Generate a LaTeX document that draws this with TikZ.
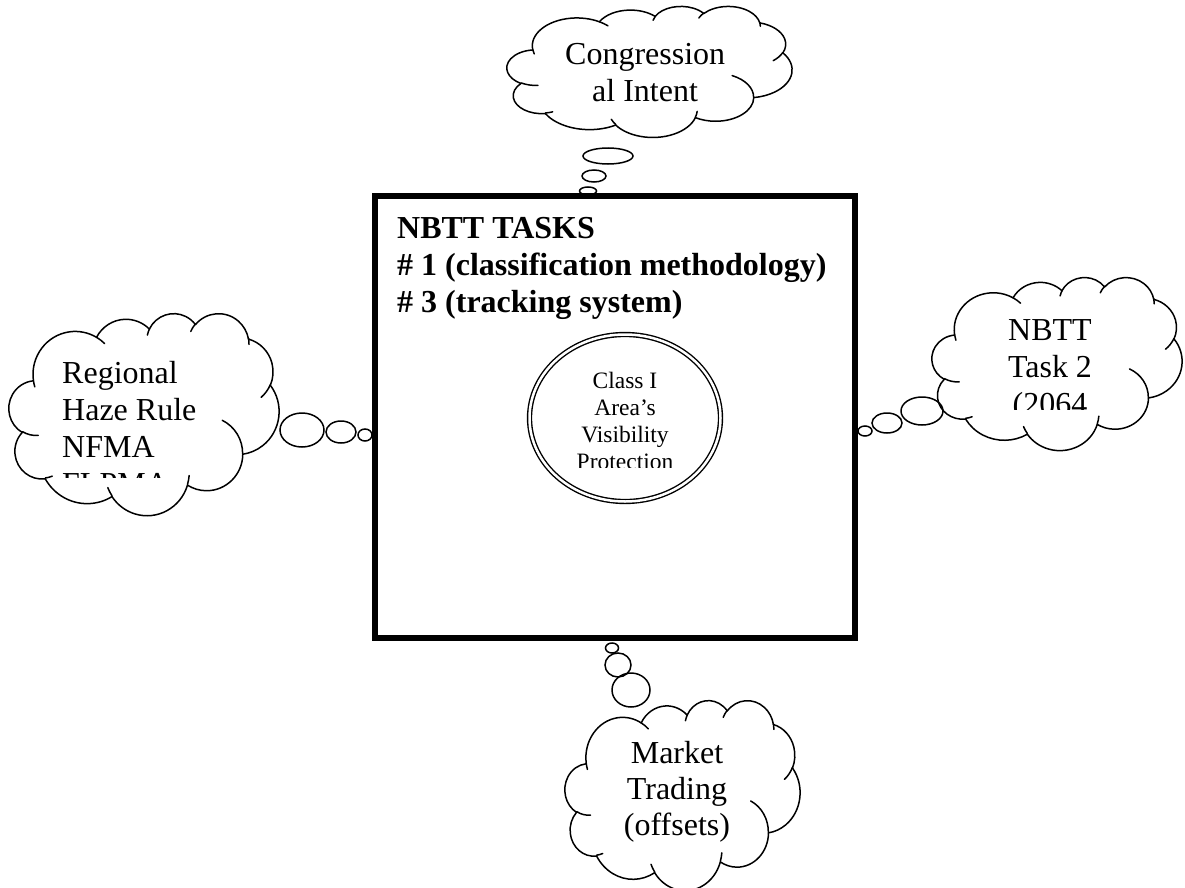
\documentclass[tikz,border=0pt]{standalone}
\usepackage{fontspec}
\setmainfont{Liberation Serif}
\usetikzlibrary{shapes.geometric}

\tikzset{
  bubble/.style={ellipse, draw, line width=1.5pt, inner sep=0pt},
  says/.style={font=\fontsize{32}{37}\selectfont, inner sep=0pt},
}

% word style arc: x radius, y radius, start angle, sweep (angles seen on the ellipse, clockwise)
\newcommand\puffarc[4]{%
  \pgfmathsetmacro\puffst{-atan2(#1*sin(#3),#2*cos(#3))}%
  \pgfmathsetmacro\puffen{-atan2(#1*sin(#3+#4),#2*cos(#3+#4))}%
  \pgfmathsetmacro\puffen{(#4<0)*(\puffen<\puffst)*360-(#4>0)*(\puffen>\puffst)*360+\puffen}%
  \pgfmathsetmacro\puffrx{#1*\cloudxu}%
  \pgfmathsetmacro\puffry{#2*\cloudyu}%
}

% thought cloud in a box: name, left, top, width, height (box is 43.2 x 43.2 inside)
\newcommand\thoughtcloud[5]{%
  \pgfmathsetmacro\cloudxu{#4/43.2}%
  \pgfmathsetmacro\cloudyu{#5/43.2}%
  \begin{scope}[shift={(#2,#3)}, x=\cloudxu pt, y=-\cloudyu pt, line width=1.5pt, line cap=round]
    \coordinate (#1) at (21.6,21.6);
    \coordinate (cur) at (3.900,14.370);
    \foreach \wr/\hr/\st/\sw in {6.753/9.190/-190.4875/123.7805, 5.333/7.267/-144.1024/89.9452,
        4.365/5.945/-145.8079/99.7230, 4.857/6.595/-130.9861/117.2417, 5.333/7.273/-78.7089/109.0269,
        6.775/9.220/-46.2673/130.2690, 5.785/7.867/0.6250/114.0333, 6.752/9.215/22.4516/115.1726,
        7.720/10.543/66.2426/75.7110, 4.360/5.918/-274.9421/146.7356, 4.345/5.945/-246.8285/152.5189} {
      \puffarc{\wr}{\hr}{\st}{\sw}
      \draw (cur) arc[start angle=\puffst, end angle=\puffen, x radius=\puffrx pt, y radius=\puffry pt] coordinate (cur);
    }
    % the little inner creases
    \foreach \mx/\my/\wr/\hr/\st/\sw in {4.693/26.177/4.345/5.945/86.7420/26.4295,
        6.928/34.899/4.360/5.918/73.6105/11.4475, 16.478/39.090/6.752/9.215/137.6242/14.0811,
        28.827/34.751/6.752/9.215/6.4533/15.9984, 34.129/22.954/5.785/7.867/-70.2924/70.9174,
        41.798/15.354/5.333/7.273/30.3180/27.7515, 38.324/5.426/4.857/6.595/-13.7443/14.8589,
        29.078/3.952/4.857/6.595/-149.1815/18.1954, 22.141/4.720/4.365/5.945/-163.4943/17.6864,
        14.000/5.192/6.753/9.190/-66.7070/12.3194, 4.127/15.789/6.753/9.190/157.6544/11.8582} {
      \puffarc{\wr}{\hr}{\st}{\sw}
      \draw (\mx,\my) arc[start angle=\puffst, end angle=\puffen, x radius=\puffrx pt, y radius=\puffry pt];
    }
  \end{scope}
}

\begin{document}
\begin{tikzpicture}[x=1pt,y=-1pt]
  \useasboundingbox (0,0) rectangle (1185,888);
  % the big task box in the middle
  \node[draw, line width=6pt, minimum width=480pt, minimum height=442pt, inner sep=0pt] (tasks) at (615,417) {};
  \node[says, font=\fontsize{32}{37}\selectfont\bfseries, align=left, anchor=base west] (tasktext) at (397,312)
    {NBTT TASKS\\\# 1 (classification methodology)\\\# 3 (tracking system)};
  % class I area in the middle
  \node[ellipse, draw, line width=1.4pt, double, double distance=2.5pt, minimum width=191pt, minimum height=167pt] (area) at (625,418) {};
  \begin{scope}
    \clip (540,350) rectangle (710,467);
    \node[inner sep=0pt, font=\fontsize{23.5}{27}\selectfont, align=center, anchor=base] (areatext) at (625,469)
      {Class I\\Area’s\\Visibility\\Protection};
  \end{scope}

  % the four thought clouds
  \thoughtcloud{intent}{507}{6}{285}{131}
  \thoughtcloud{haze}{9}{313}{270}{202}
  \thoughtcloud{task2}{932}{277}{250}{173}
  \thoughtcloud{market}{565}{700}{235}{190}

  \node[says, align=left, anchor=base west] (intenttext) at (565,102) {Congression\\\hspace{27pt}al Intent};
  \begin{scope}
    \clip (40,330) rectangle (270,477);
    \node[says, align=left, anchor=base west] (hazetext) at (62,494) {Regional\\Haze Rule\\NFMA\\FLPMA};
  \end{scope}
  \begin{scope}
    \clip (950,300) rectangle (1160,409);
    \node[says, align=center, anchor=base] (task2text) at (1050,414) {NBTT\\Task 2\\(2064};
  \end{scope}
  \node[says, font=\fontsize{32}{36}\selectfont, align=center, anchor=base] (markettext) at (677,835) {Market\\Trading\\(offsets)};

  % bubbles: name/x/y/width/height
  \foreach \n/\x/\y/\w/\h in {hb1/302/430/44/34, hb2/341/432/30/22, hb3/365/435/14/12,
                               tb1/922/411/42/28, tb2/887/423/30/20, tb3/865/431/14/10,
                               ib1/608/156/50/16, ib2/594/176/24/12, ib3/588/191/17/8,
                               mb1/612/648/13/10, mb2/618/665/26/24, mb3/631/690/38/34}
    \node[bubble, minimum width=\w pt, minimum height=\h pt] (\n) at (\x,\y) {};
\end{tikzpicture}
\end{document}
